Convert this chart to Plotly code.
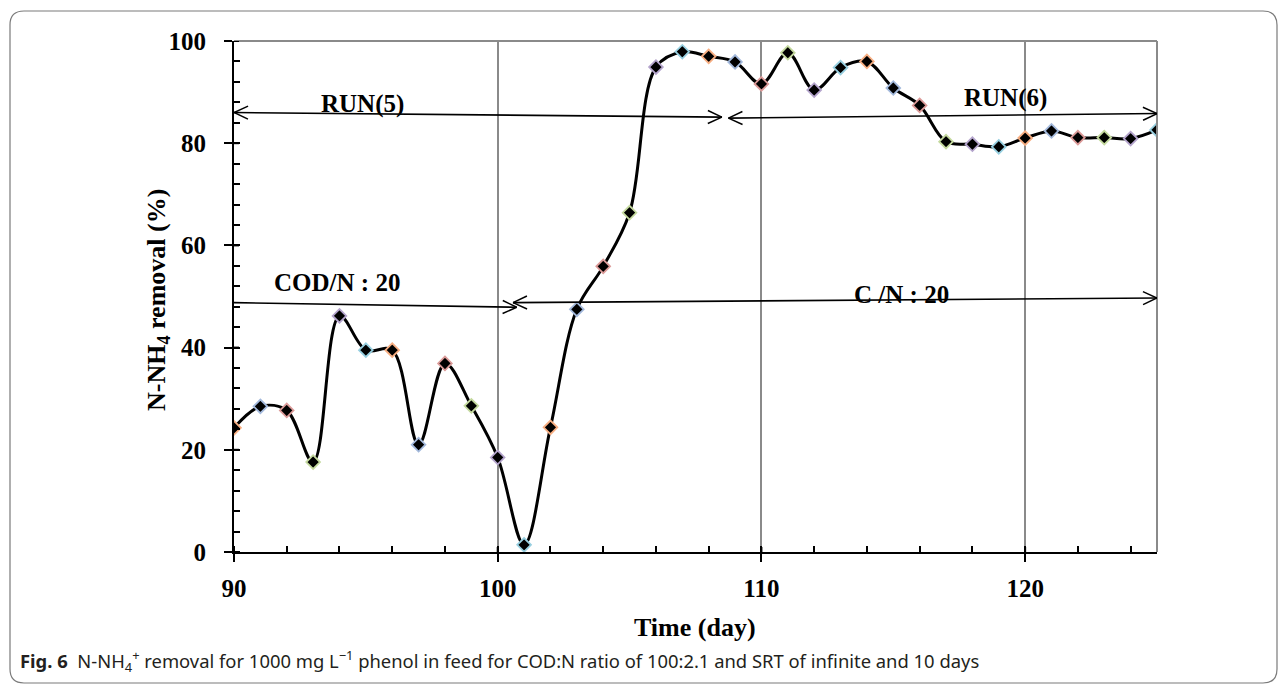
import plotly.graph_objects as go
import math

# ---------------- data ----------------
days = list(range(90, 126))
removal = [24.3, 28.5, 27.7, 17.6, 46.2, 39.5, 39.5, 21.0, 36.9, 28.6,
           18.5, 1.4, 24.4, 47.5, 55.9, 66.4, 94.9, 97.9, 97.0, 95.9,
           91.6, 97.7, 90.4, 94.8, 96.0, 90.8, 87.4, 80.3, 79.8, 79.3,
           81.0, 82.4, 81.1, 81.1, 80.9, 82.6]

outline_palette = ["#F7AE82", "#A3B9DC", "#DB9A98", "#C4D99E", "#B4A4CC", "#97CFE0"]

x_ticks = [90, 100, 110, 120]
y_ticks = [0, 20, 40, 60, 80, 100]

# annotation arrows: (x0, y0, x1, y1, head_start, head_end)
arrows = [
    (90.0, 86.0, 108.5, 85.1, True, True),     # RUN(5)
    (108.75, 84.9, 125.0, 85.8, True, True),   # RUN(6)
    (90.0, 48.8, 100.72, 47.9, False, True),   # COD/N : 20
    (100.58, 48.8, 125.0, 49.7, True, True),   # C /N : 20
]
labels = [
    ("RUN(5)", 94.87, 87.7),
    ("RUN(6)", 119.25, 88.8),
    ("COD/N : 20", 93.9, 52.7),
    ("C /N : 20", 115.3, 50.3),
]

# ---------------- layout geometry ----------------
W, H = 1287, 685
L_M, R_M, T_M, B_M = 234, 130, 41, 133
plot_w = W - L_M - R_M
plot_h = H - T_M - B_M
x_min, x_max = 90, 125
y_min, y_max = 0, 100
ppx = plot_w / (x_max - x_min)
ppy = plot_h / (y_max - y_min)

def px_to_paper(px, py):
    return (px - L_M) / plot_w, (H - B_M - py) / plot_h

serif = "Liberation Serif, Times New Roman, serif"

fig = go.Figure()
fig.add_trace(go.Scatter(
    x=days, y=removal, mode="lines+markers",
    line=dict(color="black", width=3, shape="spline", smoothing=1.0),
    marker=dict(symbol="diamond", size=10.5, color="black",
                line=dict(color=[outline_palette[i % 6] for i in range(len(days))], width=1.8)),
    showlegend=False, hoverinfo="x+y",
))

shapes = []
# top and right gray border of plot area
shapes.append(dict(type="line", xref="paper", yref="paper", x0=0, y0=1, x1=1, y1=1,
                   line=dict(color="#8a8a8a", width=2)))
shapes.append(dict(type="line", xref="paper", yref="paper", x0=1, y0=0, x1=1, y1=1,
                   line=dict(color="#8a8a8a", width=2)))

# inner halves of the crossing major ticks
for v in x_ticks:
    shapes.append(dict(type="line", xref="x", yref="paper", ysizemode="pixel", yanchor=0,
                       x0=v, x1=v, y0=0, y1=5, line=dict(color="black", width=2)))
for v in y_ticks:
    shapes.append(dict(type="line", yref="y", xref="paper", xsizemode="pixel", xanchor=0,
                       y0=v, y1=v, x0=0, x1=5, line=dict(color="black", width=2)))

# arrows
head_len, head_half = 14, 6.5
def head(xt, yt, ux, uy):
    segs = []
    for s in (1, -1):
        bx = -head_len * ux + s * head_half * (-uy)
        by = -head_len * uy + s * head_half * ux
        segs.append(dict(type="line", xref="x", yref="y", x0=xt, y0=yt,
                         x1=xt + bx / ppx, y1=yt - by / ppy,
                         line=dict(color="black", width=1.5)))
    return segs

for x0, y0, x1, y1, hs, he in arrows:
    shapes.append(dict(type="line", xref="x", yref="y", x0=x0, y0=y0, x1=x1, y1=y1,
                       line=dict(color="black", width=1.6)))
    dxp = (x1 - x0) * ppx
    dyp = -(y1 - y0) * ppy
    n = math.hypot(dxp, dyp)
    ux, uy = dxp / n, dyp / n
    if he:
        shapes += head(x1, y1, ux, uy)
    if hs:
        shapes += head(x0, y0, -ux, -uy)

# rounded outer frame
fl, ft, fr, fb = 10, 11, 1277, 683
r = 14
def P(px, py):
    a, b = px_to_paper(px, py)
    return f"{a:.5f},{b:.5f}"
path = (f"M {P(fl + r, ft)} L {P(fr - r, ft)} Q {P(fr, ft)} {P(fr, ft + r)} "
        f"L {P(fr, fb - r)} Q {P(fr, fb)} {P(fr - r, fb)} "
        f"L {P(fl + r, fb)} Q {P(fl, fb)} {P(fl, fb - r)} "
        f"L {P(fl, ft + r)} Q {P(fl, ft)} {P(fl + r, ft)} Z")
shapes.append(dict(type="path", xref="paper", yref="paper", path=path,
                   line=dict(color="#7a7a7a", width=1.2), layer="below"))

annotations = []
for txt, xa, ya in labels:
    annotations.append(dict(text=f"<b>{txt}</b>", x=xa, y=ya, xref="x", yref="y",
                            showarrow=False, font=dict(family=serif, size=25, color="black"),
                            xanchor="center", yanchor="middle"))

# axis titles
tx, ty = px_to_paper(695, 627)
annotations.append(dict(text="<b>Time (day)</b>", x=tx, y=ty, xref="paper", yref="paper",
                        showarrow=False, font=dict(family=serif, size=26, color="black"),
                        xanchor="center", yanchor="middle"))
yx, yy = px_to_paper(158, 300)
annotations.append(dict(text="<b>N-NH<sub>4</sub> removal (%)</b>", x=yx, y=yy,
                        xref="paper", yref="paper", textangle=-90,
                        showarrow=False, font=dict(family=serif, size=26, color="black"),
                        xanchor="center", yanchor="middle"))
# caption
cx, cy = px_to_paper(18, 661)
annotations.append(dict(
    text=("<b>Fig. 6</b>  N-NH<sub>4</sub><sup>+</sup> removal for 1000 mg L<sup>\u22121</sup> "
          "phenol in feed for COD:N ratio of 100:2.1 and SRT of infinite and 10 days"),
    x=cx, y=cy, xref="paper", yref="paper", showarrow=False,
    font=dict(family="Noto Sans, Open Sans, sans-serif", size=18.4, color="#231f20"),
    xanchor="left", yanchor="middle"))

fig.update_layout(
    width=W, height=H,
    margin=dict(l=L_M, r=R_M, t=T_M, b=B_M),
    paper_bgcolor="white", plot_bgcolor="white",
    shapes=shapes, annotations=annotations,
    xaxis=dict(range=[x_min, x_max], tickvals=x_ticks, ticktext=[f"<b>{v}</b>" for v in x_ticks],
               showgrid=True, gridcolor="#8a8a8a", gridwidth=1.5,
               showline=True, linecolor="black", linewidth=2,
               ticks="outside", ticklen=8, tickwidth=2, tickcolor="black",
               ticklabelstandoff=5,
               minor=dict(dtick=2, tick0=90, ticks="inside", ticklen=6, tickwidth=1.5,
                          tickcolor="black", showgrid=False),
               tickfont=dict(family=serif, size=25, color="black"),
               zeroline=False, fixedrange=True),
    yaxis=dict(range=[y_min, y_max], tickvals=y_ticks, ticktext=[f"<b>{v}</b>" for v in y_ticks],
               showgrid=False, showline=True, linecolor="black", linewidth=2,
               ticks="outside", ticklen=8, tickwidth=2, tickcolor="black",
               ticklabelstandoff=13,
               minor=dict(dtick=4, tick0=0, ticks="inside", ticklen=6, tickwidth=1.5,
                          tickcolor="black", showgrid=False),
               tickfont=dict(family=serif, size=25, color="black"),
               zeroline=False, fixedrange=True),
)

fig.write_html("out.html", config={"displayModeBar": False},
               post_script="document.body.style.margin='0';document.body.style.overflow='hidden';")
